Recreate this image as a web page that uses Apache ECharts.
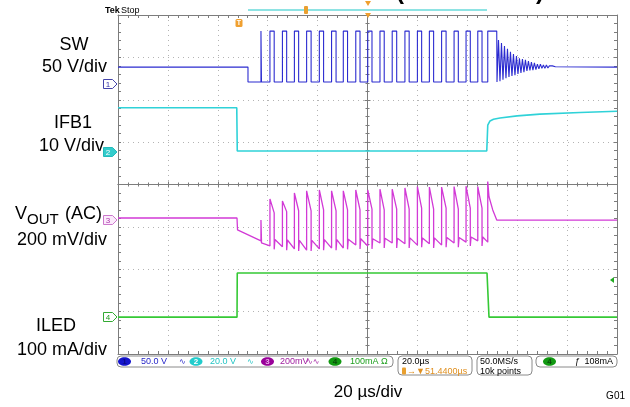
<!DOCTYPE html>
<html><head><meta charset="utf-8">
<script src="https://cdn.jsdelivr.net/npm/echarts@6/dist/echarts.min.js"></script>
<style>html,body{margin:0;padding:0;background:#fff}#c{width:630px;height:407px}</style>
</head><body><div id="c"></div>
<script>
// ---------- data (time in µs, 20 µs/div; vertical in screen divisions 0..8) ----------
const timeRange = [0, 200];
const timeDiv = 20;
const divRange = [0, 8];

// SW (50 V/div)
const swLevels = [6.77, 6.42, 7.62];           // idle, low, high
const swStopTime = [52.1];
const swRise = [57.3, 60.9, 65.9, 70.7, 75.6, 80.7, 85.6, 90.3, 95.3, 100.1, 105.0, 109.9, 115.0, 120.0, 124.8, 129.7, 134.7, 139.5, 144.2, 148.2];
const swFall = [57.5, 62.6, 67.6, 72.4, 77.4, 82.4, 87.4, 92.0, 97.0, 101.8, 106.7, 111.7, 116.7, 121.7, 126.5, 131.5, 136.4, 141.2, 145.9, 151.8];
const swRingTop = [7.41, 7.34, 7.27, 7.20, 7.13, 7.08, 7.03, 6.98, 6.96, 6.94, 6.91, 6.89, 6.87, 6.84, 6.84, 6.82, 6.82, 6.80, 6.80, 6.78];
const swRingBottom = [6.42, 6.44, 6.47, 6.51, 6.54, 6.56, 6.58, 6.61, 6.63, 6.65, 6.68, 6.69, 6.70, 6.71, 6.73, 6.74, 6.74, 6.75, 6.76, 6.76];
const swRingHalfPeriod = [0.6];

// IFB1 (10 V/div)
const ifbT = [0, 47.6, 47.8, 147.8, 148.2, 149.1, 150.5, 153.1, 160, 169.1, 185.2, 200];
const ifbV = [5.81, 5.81, 4.79, 4.79, 5.40, 5.50, 5.54, 5.57, 5.62, 5.66, 5.70, 5.73];

// VOUT AC (200 mV/div)
const voutLeadT = [0, 47.7, 47.9];
const voutLeadV = [3.21, 3.21, 2.93];
const voutPre = [2.67, 2.55, 2.53, 2.48, 2.45, 2.48, 2.50, 2.50, 2.57, 2.55, 2.62, 2.62, 2.60, 2.57, 2.60, 2.57, 2.62, 2.64, 2.67, 2.64];
const voutPeak = [3.16, 3.66, 3.61, 3.80, 3.85, 3.87, 3.85, 3.85, 3.87, 3.87, 3.89, 3.89, 3.92, 3.95, 3.94, 3.94, 3.95, 3.96, 3.95, 4.07];
const voutShoulder = [2.70, 3.33, 3.36, 3.38, 3.38, 3.40, 3.38, 3.40, 3.40, 3.42, 3.40, 3.42, 3.42, 3.44, 3.42, 3.44, 3.42, 3.44, 3.44];
const voutDip = [2.62, 2.47, 2.45, 2.43, 2.43, 2.45, 2.45, 2.47, 2.48, 2.48, 2.50, 2.50, 2.50, 2.52, 2.50, 2.52, 2.52, 2.55, 2.55];
const voutTrough = [2.66, 2.70, 2.69, 2.68, 2.68, 2.70, 2.70, 2.71, 2.72, 2.72, 2.73, 2.73, 2.74, 2.74, 2.74, 2.75, 2.75, 2.76, 2.76];
const voutTailT = [148.7, 150.2, 151.8, 200];
const voutTailV = [3.71, 3.40, 3.16, 3.16];

// ILED (100 mA/div)
const ledT = [0, 47.7, 47.8, 147.9, 148.7, 200];
const ledV = [0.87, 0.87, 1.91, 1.91, 0.87, 0.87];

// ---------- build traces ----------
function buildSW() {
  const [idle, low, high] = swLevels;
  const p = [[timeRange[0], idle], [swStopTime[0], idle], [swStopTime[0], low]];
  const n = swRise.length;
  for (let i = 0; i < n; i++) {
    p.push([swRise[i], low], [swRise[i], high], [swFall[i], high]);
    if (i < n - 1) p.push([swFall[i], low]);
  }
  let t = swFall[n - 1] + 0.1;
  const h = swRingHalfPeriod[0];
  for (let k = 0; k < swRingTop.length; k++) {
    p.push([t, swRingBottom[k]]); t += h;
    p.push([t, swRingTop[k]]); t += h;
  }
  p.push([t, idle], [timeRange[1], idle]);
  return p;
}
function buildVout() {
  const p = voutLeadT.map((t, i) => [t, voutLeadV[i]]);
  const n = swRise.length;
  for (let i = 0; i < n; i++) {
    p.push([swRise[i], voutPre[i]], [swRise[i], voutPeak[i]]);
    if (i < n - 1) {
      p.push([swFall[i], voutShoulder[i]], [swFall[i], voutDip[i]], [swFall[i] + 0.3, voutTrough[i]]);
    }
  }
  voutTailT.forEach((t, i) => p.push([t, voutTailV[i]]));
  return p;
}
const zip = (a, b) => a.map((t, i) => [t, b[i]]);

// ---------- chart ----------
const FR = '#7c7c7c', DOT = '#b4b4b4';
const FONT = '"Liberation Sans", Arial, "DejaVu Sans", sans-serif';
function frameX(pos, split) {
  return { type: 'value', min: timeRange[0], max: timeRange[1], interval: timeDiv, position: pos,
    axisLine: { show: true, onZero: false, lineStyle: { color: FR, width: 1 } },
    axisTick: { show: true, inside: true, length: 3, lineStyle: { color: FR } },
    minorTick: { show: true, splitNumber: 5, length: 3, lineStyle: { color: FR } },
    axisLabel: { show: false },
    splitLine: { show: split, lineStyle: { color: DOT, width: 1, type: [1, 4] } } };
}
function frameY(pos, split) {
  return { type: 'value', min: divRange[0], max: divRange[1], interval: 1, position: pos,
    axisLine: { show: true, onZero: false, lineStyle: { color: FR, width: 1 } },
    axisTick: { show: true, inside: true, length: 3, lineStyle: { color: FR } },
    minorTick: { show: true, splitNumber: 5, length: 3, lineStyle: { color: FR } },
    axisLabel: { show: false },
    splitLine: { show: split, lineStyle: { color: DOT, width: 1, type: [1, 4] } } };
}
function centerX(inside) {
  return { type: 'value', min: -100, max: 100, interval: timeDiv, position: 'bottom',
    axisLine: { show: true, onZero: true, onZeroAxisIndex: 2, lineStyle: { color: FR, width: 1 } },
    axisTick: { show: true, inside, length: 3, lineStyle: { color: FR } },
    minorTick: { show: true, splitNumber: 5, length: 2, lineStyle: { color: FR } },
    axisLabel: { show: false }, splitLine: { show: false } };
}
function centerY(inside) {
  return { type: 'value', min: -4, max: 4, interval: 1, position: 'left',
    axisLine: { show: true, onZero: true, onZeroAxisIndex: 2, lineStyle: { color: FR, width: 1 } },
    axisTick: { show: true, inside, length: 3, lineStyle: { color: FR } },
    minorTick: { show: true, splitNumber: 5, length: 2, lineStyle: { color: FR } },
    axisLabel: { show: false }, splitLine: { show: false } };
}
function line(data, color, width) {
  return { type: 'line', data, xAxisIndex: 0, yAxisIndex: 0, showSymbol: false, symbol: 'none',
    silent: true, animation: false, clip: true, z: 5,
    lineStyle: { color, width }, emphasis: { disabled: true } };
}
function txt(x, y, s, size, color, align, weight, va) {
  return { type: 'text', silent: true, z: 100,
    style: { x, y, text: s, font: (weight || 'normal') + ' ' + size + 'px ' + FONT, fill: color,
      textAlign: align || 'left', textVerticalAlign: va || 'middle', align: align || 'left', verticalAlign: va || 'middle' } };
}
function rect(x, y, w, h, r, fill, stroke) {
  return { type: 'rect', silent: true, z: 99, shape: { x, y, width: w, height: h, r },
    style: { fill: fill || 'none', stroke: stroke || null, lineWidth: 1 } };
}
function ell(cx, cy, rx, ry, fill) {
  return { type: 'ellipse', silent: true, z: 99, shape: { cx, cy, rx, ry }, style: { fill } };
}
function poly(pts, fill, stroke) {
  return { type: 'polygon', silent: true, z: 99, shape: { points: pts }, style: { fill, stroke: stroke || null, lineWidth: 1 } };
}
function marker(y, n, stroke, fill, tc) {
  return [poly([[103.5, y - 4.5], [112.5, y - 4.5], [117, y], [112.5, y + 4.5], [103.5, y + 4.5]], fill, stroke),
          txt(108, y + 0.5, n, 8, tc, 'center')];
}

const graphics = [
  // left labels
  txt(74, 45, 'SW', 18, '#000', 'center'),
  txt(107, 67, '50 V/div', 18, '#000', 'right'),
  txt(73, 123, 'IFB1', 18, '#000', 'center'),
  txt(104, 146, '10 V/div', 18, '#000', 'right'),
  txt(15, 214, 'V', 18, '#000', 'left'),
  txt(27, 220, 'OUT', 15, '#000', 'left'),
  txt(60, 214, ' (AC)', 18, '#000', 'left'),
  txt(107, 240, '200 mV/div', 18, '#000', 'right'),
  txt(56, 326, 'ILED', 18, '#000', 'center'),
  txt(107, 350, '100 mA/div', 18, '#000', 'right'),
  // bottom
  txt(368, 392, '20 µs/div', 17, '#000', 'center'),
  txt(625, 396, 'G01', 10, '#000', 'right'),
  // top header (cut off at the top edge)
  txt(400, 4, '(', 24, '#000', 'center', 'bold', 'bottom'),
  txt(540, 4, ')', 24, '#000', 'center', 'bold', 'bottom'),
  txt(105, 11, 'Tek', 9, '#000', 'left', 'bold'),
  txt(121, 11, 'Stop', 9, '#000', 'left'),
  { type: 'line', silent: true, z: 99, shape: { x1: 248, y1: 10, x2: 487, y2: 10 }, style: { stroke: '#8ee3e3', lineWidth: 2 } },
  rect(304, 6, 4, 8, 1, '#e9a030'),
  poly([[365, 1], [371, 1], [368, 6]], '#f0a030'),
  poly([[365, 13], [371, 13], [368, 18]], '#f0a030'),
  rect(235.5, 19, 7, 8, 1.5, '#f0a030'),
  txt(239, 23.5, 'T', 7, '#fff', 'center', 'bold'),
  poly([[614, 277], [614, 283], [610, 280]], '#22aa22'),
  // status bar
  rect(117, 356, 276, 11, 4, '#fff', '#8a8a8a'),
  rect(398, 356, 74, 19, 4, '#fff', '#8a8a8a'),
  rect(477, 356, 55, 19, 4, '#fff', '#8a8a8a'),
  rect(536, 356, 81, 11, 4, '#fff', '#8a8a8a'),
  ell(124.5, 361.5, 6.5, 4.3, '#1414cc'), txt(124.5, 362, '1', 8, '#0a0a88', 'center', 'bold'),
  txt(141, 362, '50.0 V', 9, '#2424c8', 'left'),
  txt(179, 362, '∿', 8, '#2424c8', 'left'),
  ell(196, 361.5, 6.5, 4.3, '#22cccc'), txt(196, 362, '2', 8, '#ffffff', 'center', 'bold'),
  txt(210, 362, '20.0 V', 9, '#22c4c4', 'left'),
  txt(247, 362, '∿', 8, '#22c4c4', 'left'),
  ell(267.5, 361.5, 6.5, 4.3, '#990099'), txt(267.5, 362, '3', 8, '#e8a8e8', 'center', 'bold'),
  txt(280, 362, '200mV', 9, '#a020a0', 'left'),
  txt(306, 362, '∿∿', 8, '#a020a0', 'left'),
  ell(335, 361.5, 6.5, 4.3, '#119911'), txt(335, 362, '4', 8, '#0a4a0a', 'center', 'bold'),
  txt(350, 362, '100mA Ω', 9, '#20a020', 'left'),
  txt(402, 362, '20.0µs', 9, '#000', 'left'),
  rect(402, 367.5, 4, 7, 1, '#e9a030'),
  txt(407, 371.5, '→▼51.4400µs', 9, '#e09020', 'left'),
  txt(480, 362, '50.0MS/s', 9, '#000', 'left'),
  txt(480, 371.5, '10k points', 9, '#000', 'left'),
  ell(549.5, 361.5, 6.5, 4.3, '#119911'), txt(549.5, 362, '4', 8, '#0a4a0a', 'center', 'bold'),
  txt(575, 362, 'ƒ', 9, '#000', 'left'),
  txt(613, 362, '108mA', 9, '#000', 'right'),
  ...marker(84, '1', '#4444aa', '#ffffff', '#3333aa'),
  ...marker(152, '2', '#22bbbb', '#33cccc', '#ffffff'),
  ...marker(220, '3', '#cc77cc', '#fbeafb', '#aa33aa'),
  ...marker(317, '4', '#33aa33', '#ffffff', '#229922')
];

const chart = echarts.init(document.getElementById('c'), null, { renderer: 'canvas' });
chart.setOption({
  animation: false,
  backgroundColor: '#ffffff',
  grid: { left: 118, top: 15, width: 499, height: 339, containLabel: false },
  xAxis: [frameX('bottom', true), frameX('top', false), centerX(true), centerX(false)],
  yAxis: [frameY('left', true), frameY('right', false), centerY(true), centerY(false)],
  series: [
    line(zip(ledT, ledV), '#35c935', 1.6),
    line(buildVout(), '#d23ad6', 1.3),
    line(zip(ifbT, ifbV), '#2fd2d8', 1.6),
    line(buildSW(), '#2b2bd0', 1.1)
  ],
  graphic: { elements: graphics }
});
</script>
</body></html>
